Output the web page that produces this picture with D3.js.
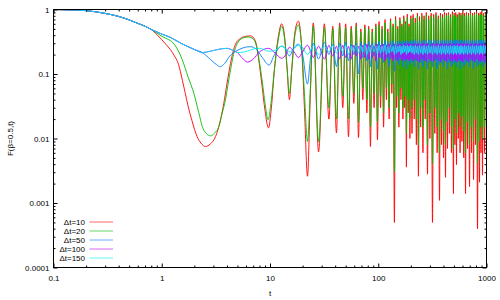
<!DOCTYPE html>
<html>
<head>
<meta charset="utf-8">
<style>
	body { margin: 0; background: #fff; }
	svg { font-family: "Liberation Sans", Arial, sans-serif; }
	.curve { fill: none; stroke-width: 0.9; }
	.frame { fill: none; stroke: #000; stroke-width: 1; }
	.axis .domain { display: none; }
	.axis line { stroke: #000; }
	.axis text { fill: #000; }
</style>
<script src="https://d3js.org/d3.v7.min.js"></script>
</head>
<body>
<script>
	// tick labels
	var xTicks = [0.1, 1, 10, 100, 1000];
	var xTickLabels = ["0.1", "1", "10", "100", "1000"];
	var yTicks = [0.0001, 0.001, 0.01, 0.1, 1];
	var yTickLabels = ["0.0001", "0.001", "0.01", "0.1", "1"];

	var seriesNames = ["\u0394t=10", "\u0394t=20", "\u0394t=50", "\u0394t=100", "\u0394t=150"];
	var seriesColors = ["#ff0000", "#00c000", "#0080ff", "#c000ff", "#00eeee"];
	var seriesWidths = [0.9, 1.1, 0.9, 0.9, 1];

	// common start of all curves
	var tHead = [0.1, 0.15, 0.2, 0.3, 0.4, 0.5, 0.6, 0.7, 0.8];
	var fHead = [1, 0.985, 0.96, 0.87, 0.78, 0.69, 0.61, 0.55, 0.49];

	// dt=10
	var tRed = [0.9, 1.0, 1.1, 1.2, 1.3, 1.43, 1.55, 1.65, 1.75, 1.9, 2.12, 2.3, 2.54, 2.8, 3.14, 3.45, 3.74, 4.0, 4.32, 4.8, 5.33, 6.0, 6.6, 7.08, 7.5, 7.88, 8.4, 9.0, 9.68, 10.3, 11.0, 12.0, 12.8, 13.6, 14.4, 15.1, 15.9, 17.0, 18.3, 19.5, 20.8, 22.2, 23.6];
	var fRed = [0.41, 0.34, 0.285, 0.24, 0.195, 0.14, 0.08, 0.05, 0.032, 0.019, 0.0107, 0.0085, 0.0075, 0.0082, 0.0107, 0.018, 0.035, 0.07, 0.147, 0.29, 0.355, 0.385, 0.39, 0.36, 0.28, 0.165, 0.07, 0.027, 0.0146, 0.03, 0.12, 0.4, 0.6, 0.4, 0.12, 0.04, 0.12, 0.45, 0.66, 0.3, 0.03, 0.0026, 0.05];

	// dt=20
	var tGreen = [0.9, 1.0, 1.1, 1.2, 1.3, 1.42, 1.55, 1.75, 1.98, 2.2, 2.37, 2.6, 2.82, 3.05, 3.37, 3.6, 3.88, 4.1, 4.32, 4.6, 5.0, 5.6, 6.3, 7.0, 7.5, 7.9, 8.5, 9.0, 9.6, 10.2, 11.0, 12.0, 12.8, 13.6, 14.4, 15.1, 15.9, 17.0, 18.3, 19.5, 20.8, 22.2, 23.6];
	var fGreen = [0.43, 0.385, 0.355, 0.33, 0.29, 0.23, 0.165, 0.09, 0.05, 0.025, 0.0153, 0.0118, 0.011, 0.012, 0.0153, 0.024, 0.04, 0.07, 0.116, 0.2, 0.3, 0.36, 0.375, 0.35, 0.27, 0.17, 0.075, 0.035, 0.0195, 0.035, 0.12, 0.36, 0.55, 0.36, 0.12, 0.05, 0.12, 0.4, 0.58, 0.3, 0.05, 0.009, 0.06];

	// dt=50,100,150 share this part
	var tSlow = [0.9, 1.0, 1.2, 1.5, 1.71, 2.0, 2.37];
	var fSlow = [0.45, 0.415, 0.37, 0.3, 0.27, 0.24, 0.215];

	var tBlue = [2.8, 3.2, 3.49, 3.8, 4.2, 4.6, 5.2, 5.9, 6.6, 7.5, 8.5, 9.8, 11.0, 12.8, 14.0, 15.1, 16.5, 18.3, 20.0, 22.2, 23.6];
	var fBlue = [0.17, 0.14, 0.13, 0.145, 0.185, 0.215, 0.24, 0.26, 0.265, 0.24, 0.18, 0.138, 0.2, 0.27, 0.24, 0.19, 0.25, 0.29, 0.2, 0.07, 0.17];

	// dt=100,150 share this part
	var tUpper = [2.8, 3.3, 4.0, 4.6, 5.0];
	var fUpper = [0.225, 0.24, 0.25, 0.23, 0.215];

	var tMagenta = [5.5, 6.2, 7.0, 8.0, 9.7, 11.2, 12.8, 14.0, 15.1, 16.7, 18.3, 20.0, 22.2, 23.6];
	var fMagenta = [0.18, 0.153, 0.17, 0.22, 0.25, 0.21, 0.175, 0.2, 0.26, 0.22, 0.18, 0.22, 0.28, 0.23];

	var tCyan = [5.8, 6.6, 7.5, 8.5, 9.7, 11.0, 12.8, 14.0, 15.1, 16.5, 18.3, 20.0, 22.2, 23.6];
	var fCyan = [0.22, 0.235, 0.25, 0.245, 0.225, 0.23, 0.27, 0.25, 0.22, 0.24, 0.28, 0.26, 0.2, 0.23];

	// late oscillations: alternating extremes
	var tOsc = [25.1, 28.1, 31.8, 35, 38, 41.1, 44, 47, 50, 53.1,
		56.3, 59.5, 62.6, 65.7, 69, 72, 75.2, 78.5, 81.6, 84.7,
		88, 91.5, 95, 98.4, 101.7, 105, 108.5, 112, 115.5, 119,
		122.5, 126, 129.8, 133.5, 137.2, 141, 144.5, 148, 151.5, 155,
		158.5, 162, 165.5, 169, 172.2, 175.5, 178.8, 182, 185.5, 189,
		192.5, 196, 200,
		205, 210, 215, 220, 225, 230, 235, 240.7, 246.6, 252.6,
		258.8, 265, 271.5, 278.1, 285, 292.5, 300, 308.5, 317, 325,
		333, 341.4, 350, 359, 368, 376, 384, 392.3, 400.7, 409.3,
		418, 427, 436, 445.4, 455, 464.7, 474.6, 484.8, 495, 503,
		511, 519.5, 528, 538, 549, 559.5, 570, 581, 592.5, 604,
		616, 628, 640, 653.5, 667.5, 682, 697, 712, 727, 743,
		759, 775, 792, 809, 826, 844, 862, 875.5, 889, 903.5,
		918, 938, 958, 979, 1000];

	var oscRed = [0.62, 0.0062, 0.6, 0.02, 0.55, 0.0122, 0.62, 0.03, 0.6, 0.0106,
		0.55, 0.035, 0.62, 0.0103, 0.5, 0.04, 0.58, 0.025, 0.55, 0.0075,
		0.5, 0.03, 0.6, 0.0095, 0.65, 0.03, 0.55, 0.015, 0.7, 0.04,
		0.5, 0.02, 0.72, 0.05, 0.6, 0.0005, 0.78, 0.03, 0.55, 0.015,
		0.75, 0.04, 0.6, 0.02, 0.8, 0.03, 0.65, 0.0036, 0.85, 0.025,
		0.6, 0.01, 0.8,
		0.012, 0.84, 0.02, 0.74, 0.008, 0.88, 0.0026, 0.78, 0.015, 0.88,
		0.006, 0.8, 0.02, 0.9, 0.0028, 0.8, 0.01, 0.88, 0.0005, 0.84,
		0.012, 0.9, 0.006, 0.8, 0.0011, 0.88, 0.008, 0.84, 0.005, 0.9,
		0.0025, 0.88, 0.007, 0.9, 0.012, 0.84, 0.006, 0.93, 0.0014, 0.88,
		0.008, 0.9, 0.0039, 0.84, 0.01, 0.9, 0.006, 0.88, 0.009, 0.93,
		0.005, 0.88, 0.0014, 0.9, 0.007, 0.88, 0.0018, 0.93, 0.006, 0.88,
		0.0023, 0.9, 0.008, 0.93, 0.0004, 0.88, 0.0021, 0.9, 0.006, 0.93,
		0.0027, 0.88, 0.006, 0.9, 0.005];

	var oscGreen = [0.55, 0.009, 0.52, 0.03, 0.5, 0.02, 0.55, 0.045, 0.52, 0.02,
		0.5, 0.05, 0.55, 0.018, 0.45, 0.06, 0.52, 0.04, 0.5, 0.015,
		0.45, 0.05, 0.55, 0.018, 0.58, 0.045, 0.5, 0.025, 0.62, 0.06,
		0.45, 0.03, 0.66, 0.07, 0.55, 0.003, 0.7, 0.045, 0.5, 0.025,
		0.68, 0.06, 0.55, 0.03, 0.72, 0.045, 0.6, 0.012, 0.75, 0.04,
		0.55, 0.02, 0.72,
		0.03, 0.75, 0.04, 0.62, 0.02, 0.8, 0.008, 0.66, 0.03, 0.8,
		0.015, 0.7, 0.04, 0.82, 0.008, 0.7, 0.025, 0.8, 0.004, 0.75,
		0.03, 0.82, 0.015, 0.72, 0.006, 0.8, 0.02, 0.75, 0.013, 0.82,
		0.008, 0.8, 0.018, 0.84, 0.03, 0.76, 0.015, 0.85, 0.007, 0.8,
		0.02, 0.84, 0.012, 0.76, 0.025, 0.84, 0.015, 0.8, 0.022, 0.86,
		0.013, 0.8, 0.006, 0.84, 0.018, 0.8, 0.008, 0.86, 0.015, 0.8,
		0.009, 0.84, 0.02, 0.86, 0.004, 0.8, 0.009, 0.84, 0.015, 0.86,
		0.01, 0.8, 0.015, 0.84, 0.02];

	var oscBlue = [0.3, 0.17, 0.31, 0.2, 0.29, 0.13, 0.3, 0.19, 0.31, 0.16,
		0.29, 0.2, 0.3, 0.1, 0.31, 0.18, 0.3, 0.16, 0.32, 0.13,
		0.3, 0.19, 0.31, 0.12, 0.32, 0.18, 0.3, 0.15, 0.33, 0.17,
		0.31, 0.13, 0.32, 0.18, 0.33, 0.11, 0.31, 0.16, 0.32, 0.14,
		0.33, 0.17, 0.31, 0.13, 0.33, 0.16, 0.32, 0.12, 0.33, 0.17,
		0.32, 0.14, 0.33,
		0.15, 0.33, 0.13, 0.34, 0.16, 0.32, 0.12, 0.34, 0.15, 0.33,
		0.13, 0.34, 0.16, 0.33, 0.12, 0.34, 0.15, 0.33, 0.13, 0.34,
		0.16, 0.33, 0.12, 0.34, 0.14, 0.33, 0.15, 0.34, 0.13, 0.33,
		0.16, 0.34, 0.12, 0.33, 0.15, 0.34, 0.13, 0.33, 0.14, 0.34,
		0.15, 0.33, 0.13, 0.34, 0.16, 0.33, 0.12, 0.34, 0.15, 0.33,
		0.13, 0.34, 0.14, 0.33, 0.15, 0.34, 0.13, 0.33, 0.16, 0.34,
		0.12, 0.33, 0.15, 0.34, 0.13, 0.33, 0.14, 0.34, 0.15, 0.33,
		0.13, 0.34, 0.14, 0.33, 0.15];

	var oscMagenta = [0.18, 0.27, 0.17, 0.28, 0.19, 0.27, 0.17, 0.28, 0.18, 0.27,
		0.17, 0.28, 0.19, 0.27, 0.17, 0.28, 0.18, 0.29, 0.17, 0.28,
		0.18, 0.27, 0.16, 0.29, 0.18, 0.28, 0.17, 0.29, 0.16, 0.28,
		0.18, 0.29, 0.17, 0.28, 0.16, 0.29, 0.17, 0.28, 0.16, 0.29,
		0.18, 0.29, 0.16, 0.28, 0.17, 0.3, 0.16, 0.29, 0.17, 0.3,
		0.16, 0.29, 0.17,
		0.29, 0.16, 0.3, 0.17, 0.29, 0.16, 0.3, 0.155, 0.29, 0.17,
		0.3, 0.16, 0.29, 0.155, 0.3, 0.17, 0.29, 0.16, 0.3, 0.155,
		0.29, 0.17, 0.3, 0.16, 0.29, 0.155, 0.3, 0.17, 0.29, 0.16,
		0.3, 0.155, 0.29, 0.17, 0.3, 0.16, 0.29, 0.155, 0.3, 0.17,
		0.29, 0.16, 0.3, 0.155, 0.29, 0.17, 0.3, 0.16, 0.29, 0.155,
		0.3, 0.17, 0.29, 0.16, 0.3, 0.155, 0.29, 0.17, 0.3, 0.16,
		0.29, 0.155, 0.3, 0.17, 0.29, 0.16, 0.3, 0.155, 0.29, 0.17,
		0.3, 0.16, 0.29, 0.155, 0.3];

	var oscCyan = [0.28, 0.2, 0.27, 0.22, 0.28, 0.21, 0.27, 0.22, 0.28, 0.2,
		0.27, 0.22, 0.28, 0.21, 0.27, 0.22, 0.28, 0.2, 0.27, 0.21,
		0.28, 0.22, 0.27, 0.2, 0.28, 0.21, 0.27, 0.22, 0.28, 0.2,
		0.27, 0.21, 0.28, 0.22, 0.27, 0.2, 0.28, 0.21, 0.27, 0.22,
		0.28, 0.2, 0.27, 0.21, 0.28, 0.22, 0.27, 0.2, 0.28, 0.21,
		0.27, 0.22, 0.28,
		0.21, 0.27, 0.2, 0.28, 0.21, 0.27, 0.2, 0.28, 0.21, 0.27,
		0.2, 0.28, 0.21, 0.27, 0.2, 0.28, 0.21, 0.27, 0.2, 0.28,
		0.21, 0.27, 0.2, 0.28, 0.21, 0.27, 0.2, 0.28, 0.21, 0.27,
		0.2, 0.28, 0.21, 0.27, 0.2, 0.28, 0.21, 0.27, 0.2, 0.28,
		0.21, 0.27, 0.2, 0.28, 0.21, 0.27, 0.2, 0.28, 0.21, 0.27,
		0.2, 0.28, 0.21, 0.27, 0.2, 0.28, 0.21, 0.27, 0.2, 0.28,
		0.21, 0.27, 0.2, 0.28, 0.21, 0.27, 0.2, 0.28, 0.21, 0.27,
		0.2, 0.28, 0.21, 0.27, 0.2];

	function pairs(ts, fs) {
		return ts.map(function(t, i) { return [t, fs[i]]; });
	}

	var head = pairs(tHead, fHead),
		slow = pairs(tSlow, fSlow),
		upper = pairs(tUpper, fUpper);

	var series = [
		head.concat(pairs(tRed, fRed), pairs(tOsc, oscRed)),
		head.concat(pairs(tGreen, fGreen), pairs(tOsc, oscGreen)),
		head.concat(slow, pairs(tBlue, fBlue), pairs(tOsc, oscBlue)),
		head.concat(slow, upper, pairs(tMagenta, fMagenta), pairs(tOsc, oscMagenta)),
		head.concat(slow, upper, pairs(tCyan, fCyan), pairs(tOsc, oscCyan))
	];

	var width = 500, height = 300,
		plotL = 53.5, plotR = 486.5, plotT = 9.5, plotB = 267.5;

	var svg = d3.select("body").append("svg")
		.attr("width", width)
		.attr("height", height);

	var x = d3.scaleLog().domain([0.1, 1000]).range([plotL, plotR]);
	var y = d3.scaleLog().domain([0.0001, 1]).range([plotB, plotT]);

	svg.append("clipPath").attr("id", "plotclip")
		.append("rect")
		.attr("x", plotL).attr("y", plotT)
		.attr("width", plotR - plotL).attr("height", plotB - plotT);

	var line = d3.line()
		.x(function(d) { return x(d[0]); })
		.y(function(d) { return y(d[1]); })
		.curve(d3.curveMonotoneX);

	svg.append("g").attr("clip-path", "url(#plotclip)")
		.selectAll("path")
		.data(series)
		.enter()
		.append("path")
		.attr("class", "curve")
		.attr("stroke", function(d, i) { return seriesColors[i]; })
		.attr("stroke-width", function(d, i) { return seriesWidths[i]; })
		.attr("d", line);

	// minor tick positions
	var xMinor = [], yMinor = [];
	xTicks.slice(0, -1).forEach(function(p) {
		for (var k = 2; k < 10; k++) xMinor.push(p * k);
	});
	yTicks.slice(0, -1).forEach(function(p) {
		for (var k = 2; k < 10; k++) yMinor.push(p * k);
	});

	function styleAxis(g) {
		g.attr("font-size", 8).attr("font-family", "'Liberation Sans', Arial, sans-serif");
	}

	// bottom / left with labels
	svg.append("g").attr("class", "axis")
		.attr("transform", "translate(0," + plotB + ")")
		.call(d3.axisBottom(x).tickValues(xTicks)
			.tickFormat(function(d, i) { return xTickLabels[i]; })
			.tickSizeInner(-4).tickSizeOuter(0).tickPadding(8))
		.call(styleAxis);
	svg.append("g").attr("class", "axis")
		.attr("transform", "translate(0," + plotB + ")")
		.call(d3.axisBottom(x).tickValues(xMinor).tickFormat("")
			.tickSizeInner(-2).tickSizeOuter(0));

	svg.append("g").attr("class", "axis")
		.attr("transform", "translate(" + plotL + ",0)")
		.call(d3.axisLeft(y).tickValues(yTicks)
			.tickFormat(function(d, i) { return yTickLabels[i]; })
			.tickSizeInner(-4).tickSizeOuter(0).tickPadding(4))
		.call(styleAxis);
	svg.append("g").attr("class", "axis")
		.attr("transform", "translate(" + plotL + ",0)")
		.call(d3.axisLeft(y).tickValues(yMinor).tickFormat("")
			.tickSizeInner(-2).tickSizeOuter(0));

	// mirrored ticks top / right
	svg.append("g").attr("class", "axis")
		.attr("transform", "translate(0," + plotT + ")")
		.call(d3.axisTop(x).tickValues(xTicks).tickFormat("")
			.tickSizeInner(-4).tickSizeOuter(0));
	svg.append("g").attr("class", "axis")
		.attr("transform", "translate(0," + plotT + ")")
		.call(d3.axisTop(x).tickValues(xMinor).tickFormat("")
			.tickSizeInner(-2).tickSizeOuter(0));
	svg.append("g").attr("class", "axis")
		.attr("transform", "translate(" + plotR + ",0)")
		.call(d3.axisRight(y).tickValues(yTicks).tickFormat("")
			.tickSizeInner(-4).tickSizeOuter(0));
	svg.append("g").attr("class", "axis")
		.attr("transform", "translate(" + plotR + ",0)")
		.call(d3.axisRight(y).tickValues(yMinor).tickFormat("")
			.tickSizeInner(-2).tickSizeOuter(0));

	svg.append("rect")
		.attr("class", "frame")
		.attr("x", plotL).attr("y", plotT)
		.attr("width", plotR - plotL).attr("height", plotB - plotT);

	// axis titles
	svg.append("text")
		.attr("x", (plotL + plotR) / 2)
		.attr("y", 296)
		.attr("text-anchor", "middle")
		.attr("font-size", 8)
		.text("t");

	svg.append("text")
		.attr("transform", "translate(13," + ((plotT + plotB) / 2) + ") rotate(-90)")
		.attr("text-anchor", "middle")
		.attr("font-size", 8)
		.text("F(\u03b2=0.5,t)");

	// legend
	var legendY = d3.scalePoint().domain(seriesNames).range([221, 259]).round(true);
	var legend = svg.append("g")
		.selectAll("g")
		.data(seriesNames)
		.enter()
		.append("g")
		.attr("transform", function(d) { return "translate(0," + legendY(d) + ")"; });

	legend.append("text")
		.attr("x", 85)
		.attr("dy", "0.35em")
		.attr("text-anchor", "end")
		.attr("font-size", 8)
		.text(function(d) { return d; });

	legend.append("line")
		.attr("x1", 89.5).attr("x2", 113)
		.attr("stroke", function(d, i) { return seriesColors[i]; })
		.attr("stroke-opacity", 0.6)
		.attr("stroke-width", 1);
</script>
</body>
</html>
